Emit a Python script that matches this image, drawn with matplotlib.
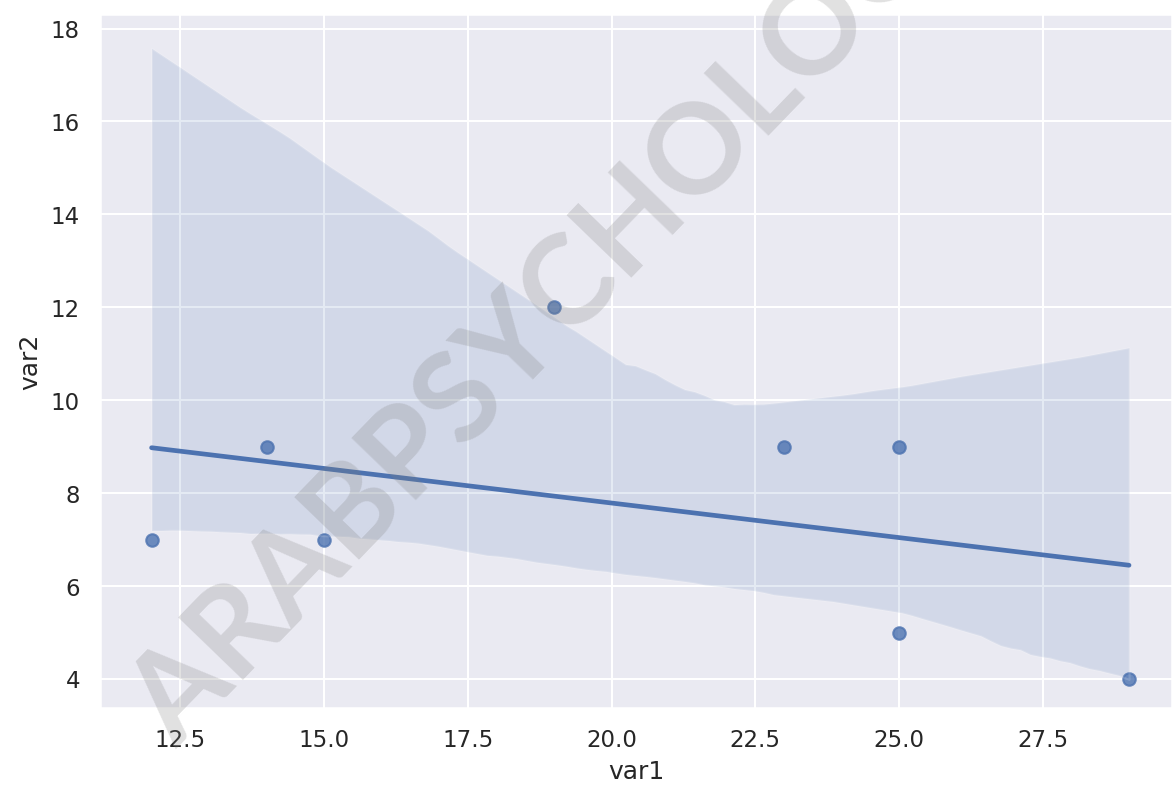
import matplotlib
matplotlib.use("Agg")
import matplotlib.pyplot as plt
import seaborn as sns
import pandas as pd

var1 = [12, 14, 15, 19, 23, 25, 25, 29]
var2 = [7, 9, 7, 12, 9, 9, 5, 4]

df = pd.DataFrame({"var1": var1, "var2": var2})

sns.set_theme(style="darkgrid")
fig, ax = plt.subplots(figsize=(7.83, 5.25), dpi=150)
fig.subplots_adjust(left=0.085, right=0.998, top=0.982, bottom=0.1)

# seed picked so the bootstrap band looks like the original
sns.regplot(data=df, x="var1", y="var2", ax=ax, seed=19)
ax.set_xlim(11.1, 29.75)
ax.set_ylim(3.37, 18.32)

# watermark
fig.text(0.478, 0.62, "ARABPSYCHOLOGY", fontsize=60, fontweight="bold",
         family="Lato", color="gray", alpha=0.24, rotation=46,
         ha="center", va="center", rotation_mode="anchor")

fig.savefig("out.png")
